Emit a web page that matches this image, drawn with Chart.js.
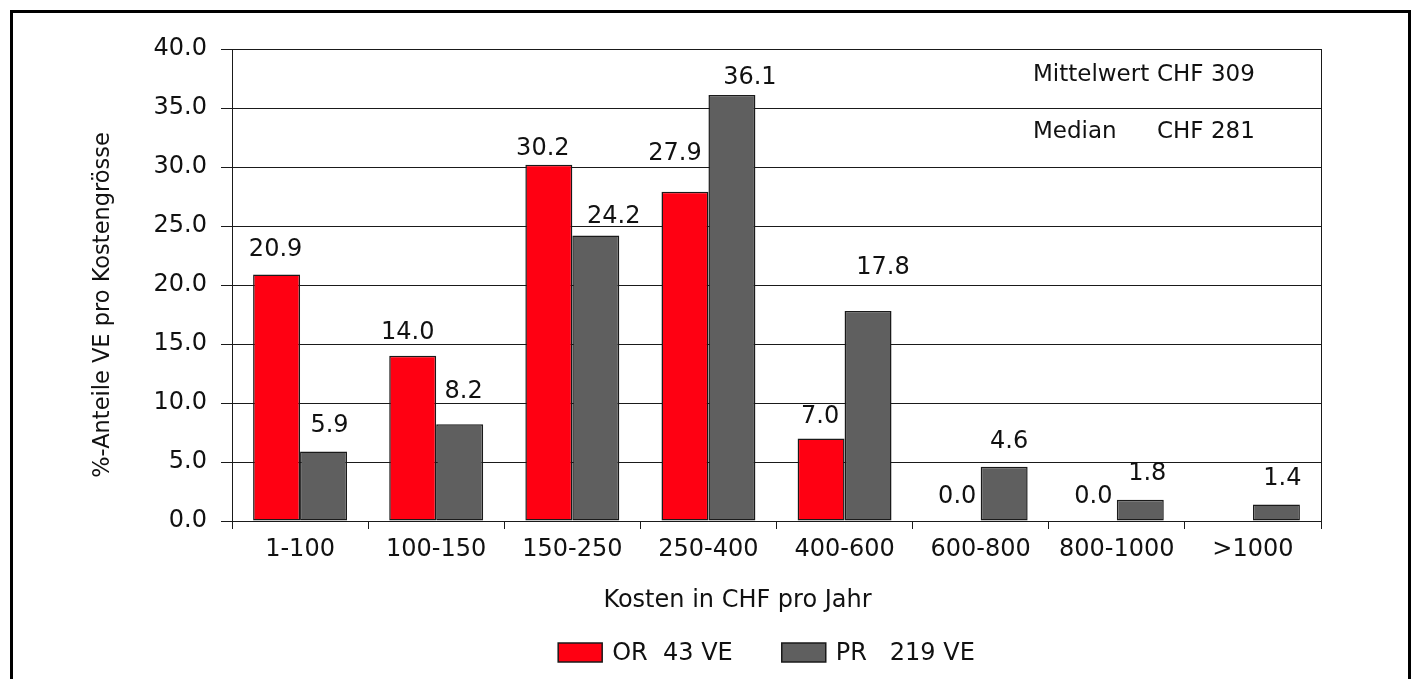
<!DOCTYPE html>
<html>
<head>
<meta charset="utf-8">
<script src="https://cdn.jsdelivr.net/npm/chart.js@4.4.1/dist/chart.umd.min.js"></script>
<style>
  html, body { margin: 0; padding: 0; background: #fff; overflow: hidden; }
  #wrap { position: relative; width: 1415px; height: 679px; }
  #frame { position: absolute; left: 10px; top: 10px; width: 1395px; height: 700px;
           border: 3px solid #000; border-bottom: none; pointer-events: none; }
  canvas { position: absolute; left: 0; top: 0; }
</style>
</head>
<body>
<div id="wrap">
  <canvas id="c" width="1415" height="679"></canvas>
  <div id="frame"></div>
</div>
<script>
// Cost classes (CHF per year) and share of units per class, in percent
const categories = ['1-100', '100-150', '150-250', '250-400', '400-600', '600-800', '800-1000', '>1000'];
const orValues = [20.9, 14.0, 30.2, 27.9, 7.0, 0.0, 0.0, null];
const prValues = [5.9, 8.2, 24.2, 36.1, 17.8, 4.6, 1.8, 1.4];
const seriesNames = ['OR  43 VE', 'PR   219 VE'];
const seriesColors = ['#ff0012', '#5f5f5f'];
const yTickValues = [0, 5, 10, 15, 20, 25, 30, 35, 40];
const statLabels = ['Mittelwert', 'Median'];
const statValues = ['CHF 309', 'CHF 281'];
const xTitle = 'Kosten in CHF pro Jahr';
const yTitle = '%-Anteile VE pro Kostengrösse';

const FONT = "'DejaVu Sans', sans-serif";
const INK = '#111';
const LINE = '#1a1a1a';

Chart.defaults.font.family = FONT;
Chart.defaults.color = INK;

// Value labels above each bar; small per-label nudges keep them clear of neighbours
const valueLabels = {
  id: 'valueLabels',
  afterDatasetsDraw(chart, args, opts) {
    const ctx = chart.ctx;
    ctx.save();
    ctx.font = `${opts.size}px ${FONT}`;
    ctx.fillStyle = INK;
    ctx.textAlign = 'center';
    ctx.textBaseline = 'middle';
    chart.data.datasets.forEach((ds, di) => {
      const meta = chart.getDatasetMeta(di);
      meta.data.forEach((bar, i) => {
        const v = ds.data[i];
        if (v === null || v === undefined) return;
        const nudge = opts.nudge[di][i];
        ctx.fillText(v.toFixed(1), bar.x + nudge[0], bar.y + nudge[1]);
      });
    });
    ctx.restore();
  }
};

// Right-hand edge of the plot frame
const plotFrame = {
  id: 'plotFrame',
  beforeDatasetsDraw(chart) {
    const { ctx, chartArea: a } = chart;
    ctx.save();
    ctx.strokeStyle = LINE;
    ctx.lineWidth = 1;
    ctx.beginPath();
    ctx.moveTo(Math.round(a.right) + 0.5, a.top);
    ctx.lineTo(Math.round(a.right) + 0.5, a.bottom);
    ctx.stroke();
    ctx.restore();
  }
};

// Axis titles, placed a little off-centre as in the printed layout
const axisTitles = {
  id: 'axisTitles',
  afterDraw(chart) {
    const { ctx, chartArea: a } = chart;
    ctx.save();
    ctx.fillStyle = INK;
    ctx.textAlign = 'center';
    ctx.textBaseline = 'middle';
    ctx.font = `24px ${FONT}`;
    ctx.fillText(xTitle, (a.left + a.right) / 2 - 39, a.bottom + 80);
    ctx.font = `22.5px ${FONT}`;
    ctx.translate(a.left - 129, (a.top + a.bottom) / 2 + 20);
    ctx.rotate(-Math.PI / 2);
    ctx.fillText(yTitle, 0, 0);
    ctx.restore();
  }
};

// Mean / median note in the upper right of the plot
const statNote = {
  id: 'statNote',
  afterDraw(chart) {
    const { ctx, chartArea: a } = chart;
    ctx.save();
    ctx.font = `23px ${FONT}`;
    ctx.fillStyle = INK;
    ctx.textAlign = 'left';
    ctx.textBaseline = 'middle';
    const x0 = a.right - 288;
    const rows = [a.top + 26, a.top + 83];
    statLabels.forEach((lab, i) => {
      ctx.fillText(lab, x0, rows[i]);
      ctx.fillText(statValues[i], x0 + 124, rows[i]);
    });
    ctx.restore();
  }
};

// Legend row beneath the axis title
const legendRow = {
  id: 'legendRow',
  afterDraw(chart) {
    const { ctx, chartArea: a } = chart;
    const boxW = 44, boxH = 19, gap = 10, itemGap = 49;
    ctx.save();
    ctx.font = `24px ${FONT}`;
    ctx.textBaseline = 'middle';
    ctx.textAlign = 'left';
    const items = chart.data.datasets.map(ds => ({
      text: ds.label, fill: ds.backgroundColor, w: ctx.measureText(ds.label).width
    }));
    const total = items.reduce((s, it) => s + boxW + gap + it.w, 0) + itemGap * (items.length - 1);
    let x = (a.left + a.right) / 2 - 10 - total / 2;
    const cy = 652.5;
    items.forEach(it => {
      ctx.fillStyle = it.fill;
      ctx.fillRect(x, cy - boxH / 2, boxW, boxH);
      ctx.strokeStyle = LINE;
      ctx.lineWidth = 1.5;
      ctx.strokeRect(x, cy - boxH / 2, boxW, boxH);
      ctx.fillStyle = INK;
      ctx.fillText(it.text, x + boxW + gap, cy + 1);
      x += boxW + gap + it.w + itemGap;
    });
    ctx.restore();
  }
};

new Chart(document.getElementById('c'), {
  type: 'bar',
  data: {
    labels: categories,
    datasets: [
      { label: seriesNames[0], data: orValues, backgroundColor: seriesColors[0],
        borderColor: LINE, borderWidth: 1.5, borderSkipped: false },
      { label: seriesNames[1], data: prValues, backgroundColor: seriesColors[1],
        borderColor: LINE, borderWidth: 1.5, borderSkipped: false }
    ]
  },
  options: {
    responsive: false,
    animation: false,
    devicePixelRatio: 1,
    layout: { padding: { top: 49, right: 94, bottom: 0, left: 0 } },
    datasets: { bar: { categoryPercentage: 0.69, barPercentage: 1.0 } },
    plugins: {
      legend: { display: false },
      tooltip: { enabled: false },
      valueLabels: {
        size: 24,
        nudge: [
          [[-1, -25], [-5, -23], [-6, -16], [-10, -38], [-1, -22], [0, -24], [0, -24], [0, 0]],
          [[6, -26], [4, -32], [18, -19], [18, -17], [15, -43], [5, -25], [7, -26], [6, -26]]
        ]
      }
    },
    scales: {
      x: {
        afterFit(s) { s.height = 158; },
        grid: { offset: true, drawOnChartArea: false, color: LINE, tickLength: 8, lineWidth: 1 },
        border: { display: true, color: LINE, width: 1 },
        ticks: { font: { size: 24 }, color: INK, padding: 6, maxRotation: 0, autoSkip: false },
        title: { display: false }
      },
      y: {
        min: 0, max: 40,
        afterFit(s) { s.width = 232; },
        afterBuildTicks(s) { s.ticks = yTickValues.map(v => ({ value: v })); },
        grid: { color: LINE, lineWidth: 1, tickLength: 11 },
        border: { display: true, color: LINE, width: 1 },
        ticks: { font: { size: 24 }, color: INK, padding: 14,
                 callback: v => Number(v).toFixed(1) },
        title: { display: false }
      }
    }
  },
  plugins: [plotFrame, valueLabels, axisTitles, statNote, legendRow]
});
</script>
</body>
</html>
